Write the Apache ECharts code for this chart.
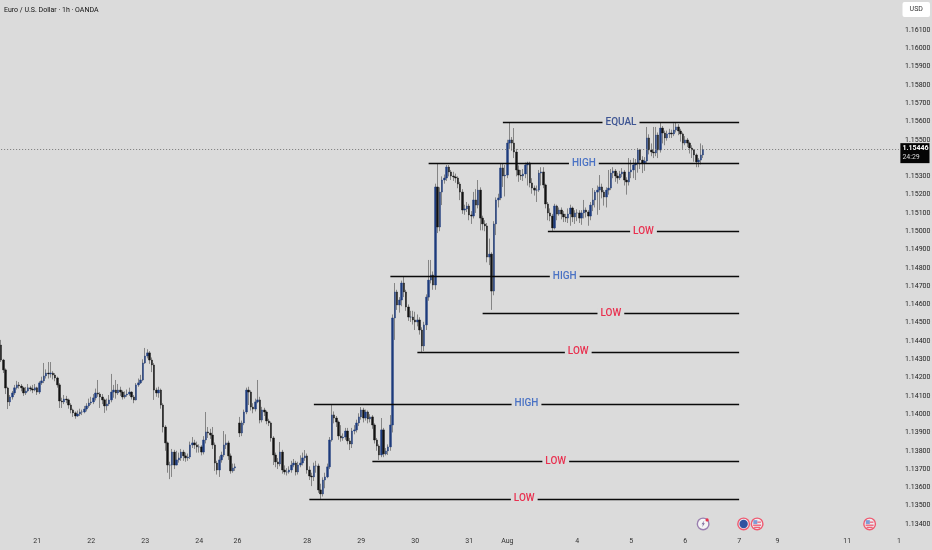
<!DOCTYPE html>
<html><head><meta charset="utf-8">
<style>html,body{margin:0;padding:0;background:#dbdbdb}#c{width:932px;height:550px}</style>
<script src="https://cdn.jsdelivr.net/npm/echarts@6/dist/echarts.min.js"></script>
</head><body><div id="c"></div>
<script>
const opens=[
1.14378,1.14296,1.14242,1.14143,1.14067,1.14094,1.14116,1.14144,1.14160,1.14154,
1.14144,1.14116,1.14127,1.14144,1.14138,1.14132,1.14144,1.14121,1.14171,1.14182,
1.14209,1.14225,1.14220,1.14225,1.14214,1.14198,1.14160,1.14072,1.14067,1.14083,
1.14078,1.14050,1.14023,1.14007,1.13990,1.14001,1.14012,1.14012,1.14028,1.14045,
1.14061,1.14067,1.14089,1.14116,1.14110,1.14094,1.14078,1.14045,1.14056,1.14078,
1.14121,1.14132,1.14116,1.14132,1.14121,1.14094,1.14105,1.14110,1.14121,1.14094,
1.14078,1.14160,1.14171,1.14187,1.14280,1.14318,1.14335,1.14296,1.14269,1.14132,
1.14116,1.14132,1.14050,1.13930,1.13843,1.13722,1.13722,1.13793,1.13722,1.13750,
1.13761,1.13793,1.13772,1.13761,1.13766,1.13832,1.13843,1.13832,1.13821,1.13821,
1.13793,1.13859,1.13903,1.13897,1.13886,1.13832,1.13733,1.13695,1.13750,1.13777,
1.13832,1.13843,1.13772,1.13690,1.13706,null,1.13952,1.13897,1.13952,1.14012,
1.14132,1.14121,1.14039,1.14028,1.14067,1.14078,1.13968,1.14023,1.14012,1.13963,
1.13952,1.13870,1.13777,1.13739,1.13728,1.13793,1.13695,1.13684,1.13684,1.13695,
1.13722,1.13733,1.13684,1.13722,1.13733,1.13761,1.13772,1.13695,1.13662,1.13657,
1.13717,1.13717,1.13586,1.13564,1.13640,1.13657,1.13712,1.13859,1.13996,1.13979,
1.13957,1.13881,1.13870,1.13875,1.13908,1.13854,1.13837,1.13908,1.13914,1.13952,
1.13985,1.14023,1.13979,1.14012,1.13974,1.13985,1.13941,1.13859,1.13826,1.13777,
1.13914,1.13783,1.13799,1.13821,1.13941,1.14526,1.14668,1.14597,1.14624,1.14717,
1.14668,1.14586,1.14531,1.14531,1.14515,1.14504,1.14515,1.14460,1.14373,1.14488,
1.14640,1.14733,1.14761,1.14706,1.15242,1.15023,1.15214,1.15280,1.15291,1.15351,
1.15324,1.15302,1.15297,1.15291,1.15258,1.15214,1.15116,1.15122,1.15138,1.15089,
1.15083,1.15171,1.15143,1.15225,1.15072,1.15040,1.15029,1.14859,1.14875,1.14673,
1.15040,1.15171,1.15182,1.15346,1.15302,1.15307,1.15482,1.15499,1.15482,1.15433,
1.15335,1.15307,1.15302,1.15313,1.15362,1.15373,1.15264,1.15236,1.15225,1.15225,
1.15318,1.15324,1.15253,1.15149,1.15100,1.15083,1.15018,1.15138,1.15094,1.15116,
1.15094,1.15078,1.15072,1.15094,1.15127,1.15078,1.15100,1.15100,1.15072,1.15100,
1.15116,1.15105,1.15083,1.15143,1.15171,1.15214,1.15225,1.15242,1.15214,1.15187,
1.15225,1.15236,1.15318,1.15329,1.15302,1.15291,1.15313,1.15324,1.15280,1.15269,
1.15324,1.15335,1.15362,1.15373,1.15444,1.15389,1.15373,1.15384,1.15510,1.15444,
1.15433,1.15428,1.15526,1.15444,1.15564,1.15537,1.15510,1.15532,1.15537,1.15532,
1.15553,1.15570,1.15548,1.15532,1.15482,1.15499,1.15482,1.15455,1.15444,1.15417,
1.15379,1.15389,1.15417];
const closes=[
1.14296,1.14242,1.14143,1.14067,1.14094,1.14116,1.14144,1.14160,1.14154,1.14144,
1.14116,1.14127,1.14144,1.14138,1.14132,1.14144,1.14121,1.14171,1.14182,1.14209,
1.14225,1.14220,1.14225,1.14214,1.14198,1.14160,1.14072,1.14067,1.14083,1.14078,
1.14050,1.14023,1.14007,1.13990,1.14001,1.14012,1.14012,1.14028,1.14045,1.14061,
1.14067,1.14089,1.14116,1.14110,1.14094,1.14078,1.14045,1.14056,1.14078,1.14121,
1.14132,1.14116,1.14132,1.14121,1.14094,1.14105,1.14110,1.14121,1.14094,1.14078,
1.14160,1.14171,1.14187,1.14280,1.14318,1.14335,1.14296,1.14269,1.14132,1.14116,
1.14132,1.14050,1.13930,1.13843,1.13722,1.13722,1.13793,1.13722,1.13750,1.13761,
1.13793,1.13772,1.13761,1.13766,1.13832,1.13843,1.13832,1.13821,1.13821,1.13793,
1.13859,1.13903,1.13897,1.13886,1.13832,1.13733,1.13695,1.13750,1.13777,1.13832,
1.13843,1.13772,1.13690,1.13706,1.13712,null,1.13897,1.13952,1.14012,1.14132,
1.14121,1.14039,1.14028,1.14067,1.14078,1.13968,1.14023,1.14012,1.13963,1.13952,
1.13870,1.13777,1.13739,1.13728,1.13793,1.13695,1.13684,1.13684,1.13695,1.13722,
1.13733,1.13684,1.13722,1.13733,1.13761,1.13772,1.13695,1.13662,1.13657,1.13717,
1.13717,1.13586,1.13564,1.13640,1.13657,1.13712,1.13859,1.13996,1.13979,1.13957,
1.13881,1.13870,1.13875,1.13908,1.13854,1.13837,1.13908,1.13914,1.13952,1.13985,
1.14023,1.13979,1.14012,1.13974,1.13985,1.13941,1.13859,1.13826,1.13777,1.13914,
1.13783,1.13799,1.13821,1.13941,1.14526,1.14668,1.14597,1.14624,1.14717,1.14668,
1.14586,1.14531,1.14531,1.14515,1.14504,1.14515,1.14460,1.14373,1.14488,1.14640,
1.14733,1.14761,1.14706,1.15242,1.15023,1.15214,1.15280,1.15291,1.15351,1.15324,
1.15302,1.15297,1.15291,1.15258,1.15214,1.15116,1.15122,1.15138,1.15089,1.15083,
1.15171,1.15143,1.15225,1.15072,1.15040,1.15029,1.14859,1.14875,1.14673,1.15040,
1.15171,1.15182,1.15346,1.15302,1.15307,1.15482,1.15499,1.15482,1.15433,1.15335,
1.15307,1.15302,1.15313,1.15362,1.15373,1.15264,1.15236,1.15225,1.15225,1.15318,
1.15324,1.15253,1.15149,1.15100,1.15083,1.15018,1.15138,1.15094,1.15116,1.15094,
1.15078,1.15072,1.15094,1.15127,1.15078,1.15100,1.15100,1.15072,1.15100,1.15116,
1.15105,1.15083,1.15143,1.15171,1.15214,1.15225,1.15242,1.15214,1.15187,1.15225,
1.15236,1.15318,1.15329,1.15302,1.15291,1.15313,1.15324,1.15280,1.15269,1.15324,
1.15335,1.15362,1.15373,1.15444,1.15389,1.15373,1.15384,1.15510,1.15444,1.15433,
1.15428,1.15526,1.15444,1.15564,1.15537,1.15510,1.15532,1.15537,1.15532,1.15553,
1.15570,1.15548,1.15532,1.15482,1.15499,1.15482,1.15455,1.15444,1.15417,1.15379,
1.15389,1.15417,1.15446];
const highs=[
1.14406,1.14302,1.14250,1.14150,1.14105,1.14127,1.14160,1.14182,1.14176,1.14165,
1.14150,1.14149,1.14165,1.14155,1.14160,1.14165,1.14150,1.14180,1.14205,1.14280,
1.14245,1.14285,1.14285,1.14235,1.14225,1.14205,1.14170,1.14090,1.14105,1.14100,
1.14085,1.14060,1.14030,1.14015,1.14020,1.14030,1.14025,1.14045,1.14060,1.14085,
1.14095,1.14110,1.14140,1.14187,1.14120,1.14110,1.14085,1.14085,1.14105,1.14220,
1.14160,1.14187,1.14165,1.14150,1.14130,1.14125,1.14135,1.14145,1.14125,1.14105,
1.14170,1.14195,1.14215,1.14300,1.14362,1.14355,1.14345,1.14310,1.14280,1.14145,
1.14150,1.14140,1.14060,1.13940,1.13850,1.13740,1.13810,1.13805,1.13800,1.13790,
1.13810,1.13805,1.13790,1.13785,1.13850,1.13875,1.13860,1.13850,1.13835,1.13830,
1.13880,1.14012,1.13930,1.13920,1.13930,1.13845,1.13745,1.13770,1.13795,1.13908,
1.13890,1.13855,1.13785,1.13730,1.13730,null,1.13985,1.13965,1.14025,1.14145,
1.14150,1.14130,1.14060,1.14085,1.14187,1.14095,1.14040,1.14035,1.14020,1.13975,
1.13960,1.13880,1.13790,1.13760,1.13848,1.13805,1.13720,1.13705,1.13715,1.13745,
1.13755,1.13745,1.13740,1.13775,1.13790,1.13804,1.13785,1.13715,1.13680,1.13735,
1.13745,1.13730,1.13620,1.13655,1.13680,1.13730,1.13875,1.14050,1.14015,1.13990,
1.13965,1.13940,1.13895,1.13925,1.13925,1.13870,1.13925,1.13940,1.13970,1.14005,
1.14039,1.14035,1.14025,1.14020,1.14000,1.13995,1.13950,1.13870,1.13835,1.13979,
1.13925,1.13815,1.13835,1.13995,1.14545,1.14717,1.14680,1.14640,1.14730,1.14750,
1.14680,1.14600,1.14565,1.14565,1.14560,1.14545,1.14530,1.14475,1.14505,1.14655,
1.14843,1.14843,1.14780,1.15260,1.15373,1.15240,1.15300,1.15310,1.15362,1.15362,
1.15335,1.15325,1.15315,1.15300,1.15270,1.15230,1.15145,1.15160,1.15150,1.15110,
1.15215,1.15230,1.15280,1.15240,1.15085,1.15060,1.15045,1.14960,1.14885,1.15055,
1.15185,1.15205,1.15373,1.15370,1.15362,1.15500,1.15597,1.15515,1.15564,1.15450,
1.15360,1.15335,1.15340,1.15375,1.15380,1.15380,1.15290,1.15250,1.15250,1.15335,
1.15350,1.15350,1.15260,1.15160,1.15125,1.15095,1.15150,1.15145,1.15130,1.15130,
1.15110,1.15095,1.15125,1.15145,1.15135,1.15115,1.15120,1.15115,1.15115,1.15171,
1.15130,1.15115,1.15160,1.15236,1.15225,1.15250,1.15307,1.15260,1.15225,1.15240,
1.15335,1.15340,1.15350,1.15340,1.15320,1.15330,1.15345,1.15335,1.15295,1.15400,
1.15390,1.15400,1.15395,1.15455,1.15450,1.15410,1.15405,1.15570,1.15530,1.15480,
1.15570,1.15570,1.15540,1.15597,1.15575,1.15550,1.15550,1.15560,1.15555,1.15590,
1.15597,1.15585,1.15560,1.15540,1.15520,1.15510,1.15490,1.15470,1.15450,1.15425,
1.15400,1.15480,1.15470];
const lows=[
1.14285,1.14225,1.14110,1.14028,1.14045,1.14080,1.14105,1.14135,1.14140,1.14125,
1.14100,1.14105,1.14120,1.14125,1.14115,1.14125,1.14105,1.14110,1.14160,1.14170,
1.14195,1.14195,1.14200,1.14190,1.14180,1.14145,1.14034,1.14034,1.14055,1.14060,
1.14030,1.14005,1.13985,1.13975,1.13985,1.13990,1.13995,1.14005,1.14015,1.14035,
1.14050,1.14055,1.14075,1.14095,1.14034,1.14055,1.14007,1.14020,1.14045,1.14065,
1.14090,1.14085,1.14105,1.14100,1.14080,1.14085,1.14095,1.14100,1.14080,1.14060,
1.14075,1.14150,1.14165,1.14180,1.14275,1.14305,1.14275,1.14230,1.14078,1.14095,
1.14090,1.14030,1.13900,1.13800,1.13680,1.13645,1.13657,1.13700,1.13720,1.13735,
1.13745,1.13745,1.13740,1.13745,1.13755,1.13815,1.13810,1.13790,1.13790,1.13775,
1.13780,1.13840,1.13870,1.13865,1.13810,1.13690,1.13670,1.13657,1.13735,1.13765,
1.13810,1.13750,1.13675,1.13680,1.13690,null,1.13875,1.13880,1.13940,1.14000,
1.14050,1.14020,1.14005,1.14015,1.14060,1.13950,1.13955,1.13990,1.13945,1.13935,
1.13850,1.13722,1.13710,1.13700,1.13715,1.13675,1.13670,1.13665,1.13675,1.13680,
1.13710,1.13665,1.13670,1.13710,1.13720,1.13745,1.13675,1.13640,1.13607,1.13635,
1.13680,1.13570,1.13537,1.13550,1.13595,1.13650,1.13700,1.13850,1.13950,1.13930,
1.13860,1.13850,1.13855,1.13860,1.13835,1.13804,1.13815,1.13890,1.13900,1.13935,
1.13970,1.13955,1.13965,1.13950,1.13955,1.13920,1.13840,1.13800,1.13750,1.13765,
1.13765,1.13775,1.13777,1.13800,1.13900,1.14406,1.14570,1.14555,1.14590,1.14640,
1.14565,1.14510,1.14504,1.14490,1.14460,1.14480,1.14435,1.14340,1.14345,1.14460,
1.14620,1.14715,1.14680,1.14680,1.14990,1.15000,1.15143,1.15260,1.15275,1.15300,
1.15280,1.15275,1.15265,1.15235,1.15170,1.15095,1.15090,1.15105,1.15060,1.15040,
1.15070,1.15100,1.15125,1.15005,1.15005,1.15000,1.14830,1.14815,1.14570,1.14650,
1.14979,1.15130,1.15170,1.15242,1.15190,1.15290,1.15450,1.15440,1.15400,1.15300,
1.15270,1.15280,1.15275,1.15290,1.15250,1.15240,1.15205,1.15195,1.15160,1.15215,
1.15250,1.15235,1.15125,1.15060,1.15055,1.15002,1.15010,1.15060,1.15085,1.15065,
1.15050,1.15050,1.15045,1.15030,1.15050,1.15040,1.15055,1.15045,1.15035,1.15070,
1.15075,1.15030,1.15060,1.15110,1.15130,1.15090,1.15116,1.15180,1.15140,1.15130,
1.15200,1.15225,1.15290,1.15270,1.15260,1.15280,1.15295,1.15250,1.15200,1.15250,
1.15290,1.15290,1.15280,1.15320,1.15340,1.15318,1.15330,1.15370,1.15420,1.15410,
1.15400,1.15410,1.15400,1.15430,1.15480,1.15470,1.15495,1.15510,1.15510,1.15520,
1.15540,1.15525,1.15490,1.15450,1.15470,1.15460,1.15425,1.15400,1.15380,1.15350,
1.15350,1.15365,1.15400];
const dayLabels=['21','22','23','24','26','28','29','30','31','Aug','4','5','6','7','9','11','1'];
const daySlots=[16,40,64,88,105,136,160,184,208,225,256,280,304,328,345,376,399];
const slotCount=400;
const priceTicks=[1.161,1.160,1.159,1.158,1.157,1.156,1.155,1.153,1.152,1.151,1.150,1.149,1.148,1.147,1.146,1.145,1.144,1.143,1.142,1.141,1.140,1.139,1.138,1.137,1.136,1.135,1.134];
const levelNames=['EQUAL','HIGH','LOW','HIGH','LOW','LOW','HIGH','LOW','LOW'];
const levelPrices=[1.15597,1.15373,1.15001,1.14755,1.14553,1.14340,1.14056,1.13744,1.13537];
const levelStarts=[223,190,243,173,214,185,139,165,137];
const levelEnd=328;
const levelColors={EQUAL:'#3e5593',HIGH:'#4a72c4',LOW:'#e9304f'};
const lastPrice=1.15446;
const countdown='24:29';
const eventSlots=[312,330,336,386];
const eventKinds=['bolt','eu','us','us'];
const eventPrice=1.134;
const titleText='Euro / U.S. Dollar · 1h · OANDA';

const FONT='Roboto,sans-serif';
const UP='#1d3b7c',DOWN='#121212',BG='#dbdbdb';
const cats=Array.from({length:slotCount},()=>'');
daySlots.forEach((s,i)=>cats[s]=dayLabels[i]);
const ohlc=closes.map((c,i)=>c===null?['-','-','-','-']:[opens[i],c,lows[i],highs[i]]);
const bodies=closes.map((c,i)=>c===null?['-','-','-','-']:[opens[i],c,Math.min(opens[i],c),Math.max(opens[i],c)]);

function renderEvent(params,api){
  const p=api.coord([api.value(0),api.value(1)]);
  const kind=eventKinds[params.dataIndex],cx=p[0],cy=p[1];
  const ring=kind==='bolt'?'#9a7fb0':'#ef5a70';
  const kids=[{type:'circle',shape:{cx,cy,r:5.8},style:{fill:kind==='bolt'?'#f4f4f4':'#ecebf0',stroke:ring,lineWidth:1.4}}];
  if(kind==='eu')kids.push({type:'circle',shape:{cx,cy,r:4.2},style:{fill:'#2f52a0'}});
  if(kind==='us'){
    kids.push({type:'rect',shape:{x:cx-3.8,y:cy-3.8,width:4,height:3.8},style:{fill:'#7d9bd6'}});
    kids.push({type:'rect',shape:{x:cx+0.2,y:cy-2.4,width:3.6,height:1.2},style:{fill:'#ef5a70'}});
    kids.push({type:'rect',shape:{x:cx-4,y:cy+0.6,width:8,height:1.3},style:{fill:'#ef5a70'}});
    kids.push({type:'rect',shape:{x:cx-3,y:cy+2.8,width:6,height:1.2},style:{fill:'#ef5a70'}});
  }
  if(kind==='bolt'){
    kids.push({type:'polygon',shape:{points:[[cx+1.2,cy-3.4],[cx-1.6,cy+0.4],[cx-0.1,cy+0.4],[cx-1,cy+3.4],[cx+1.7,cy-0.6],[cx+0.2,cy-0.6]]},style:{fill:'#7c6a9c'}});
    kids.push({type:'circle',shape:{cx:cx+4,cy:cy-4,r:1.6},style:{fill:'#e8304a'}});
  }
  return {type:'group',children:kids};
}

const chart=echarts.init(document.getElementById('c'),null,{renderer:'canvas'});
chart.setOption({
  animation:false,
  backgroundColor:BG,
  title:{text:titleText,left:4,top:7,padding:0,textStyle:{fontFamily:FONT,fontSize:7,fontWeight:'normal',color:'#111'}},
  grid:{left:0,right:32,top:0,height:532,outerBoundsMode:'none'},
  xAxis:{type:'category',data:cats,boundaryGap:true,
    axisLine:{show:false},axisTick:{show:false},splitLine:{show:false},
    axisLabel:{interval:(i,v)=>v!=='',hideOverlap:false,color:'#333',fontFamily:FONT,fontSize:7,margin:6}},
  yAxis:{type:'value',position:'right',min:1.13356,max:1.16264,scale:true,
    axisLine:{show:false},axisTick:{show:false},splitLine:{show:false},
    axisLabel:{customValues:priceTicks,formatter:v=>v.toFixed(5),color:'#222',fontFamily:FONT,fontSize:7,margin:5,showMinLabel:true,showMaxLabel:true}},
  series:[
    {type:'candlestick',name:'wicks',barWidth:1,data:ohlc,
      itemStyle:{color:'#858585',color0:'#858585',borderColor:'#858585',borderColor0:'#858585',borderWidth:1}},
    {type:'candlestick',name:'EURUSD',barWidth:1.8,data:bodies,
      itemStyle:{color:UP,color0:DOWN,borderColor:UP,borderColor0:DOWN,borderWidth:0.4}},
    {type:'line',name:'levels',data:[],symbol:'none',
      markLine:{silent:true,symbol:'none',animation:false,z:6,
        data:levelNames.map((n,i)=>[
          {coord:[levelStarts[i],levelPrices[i]],lineStyle:{color:'#0a0a0a',width:1.3,type:'solid'},
           label:{show:true,position:'middle',formatter:n,color:levelColors[n],fontFamily:FONT,fontSize:10,fontWeight:500,verticalAlign:'middle',
             backgroundColor:BG,padding:[1,3],distance:0}},
          {coord:[levelEnd,levelPrices[i]]}])}},
    {type:'line',name:'last',data:[],symbol:'none',z:8,
      markLine:{silent:true,symbol:'none',animation:false,z:8,
        data:[[{coord:[0,lastPrice],lineStyle:{color:'#777',width:1,type:[1,2]},
          label:{show:true,position:'end',distance:0,offset:[1.5,3.5],backgroundColor:'#050505',padding:[1,1,1,2],
            formatter:'{a|'+lastPrice.toFixed(5)+'}\n{b|'+countdown+'}',
            rich:{a:{color:'#fff',fontFamily:FONT,fontSize:7,fontWeight:'bold',lineHeight:9},
                  b:{color:'#ddd',fontFamily:FONT,fontSize:7,lineHeight:9}}}},
          {coord:[slotCount-1,lastPrice]}]]}},
    {type:'custom',name:'events',renderItem:renderEvent,z:7,
      data:eventSlots.map(s=>[s,eventPrice]),encode:{x:0,y:1}}
  ],
  graphic:[{type:'group',left:902.5,top:2,children:[
    {type:'rect',shape:{x:0,y:0,width:27.5,height:15,r:2},style:{fill:'#fff'}},
    {type:'text',x:13.75,y:7.5,style:{text:'USD',fill:'#333',font:'7px '+FONT,align:'center',verticalAlign:'middle'}}]}]
});
</script></body></html>
